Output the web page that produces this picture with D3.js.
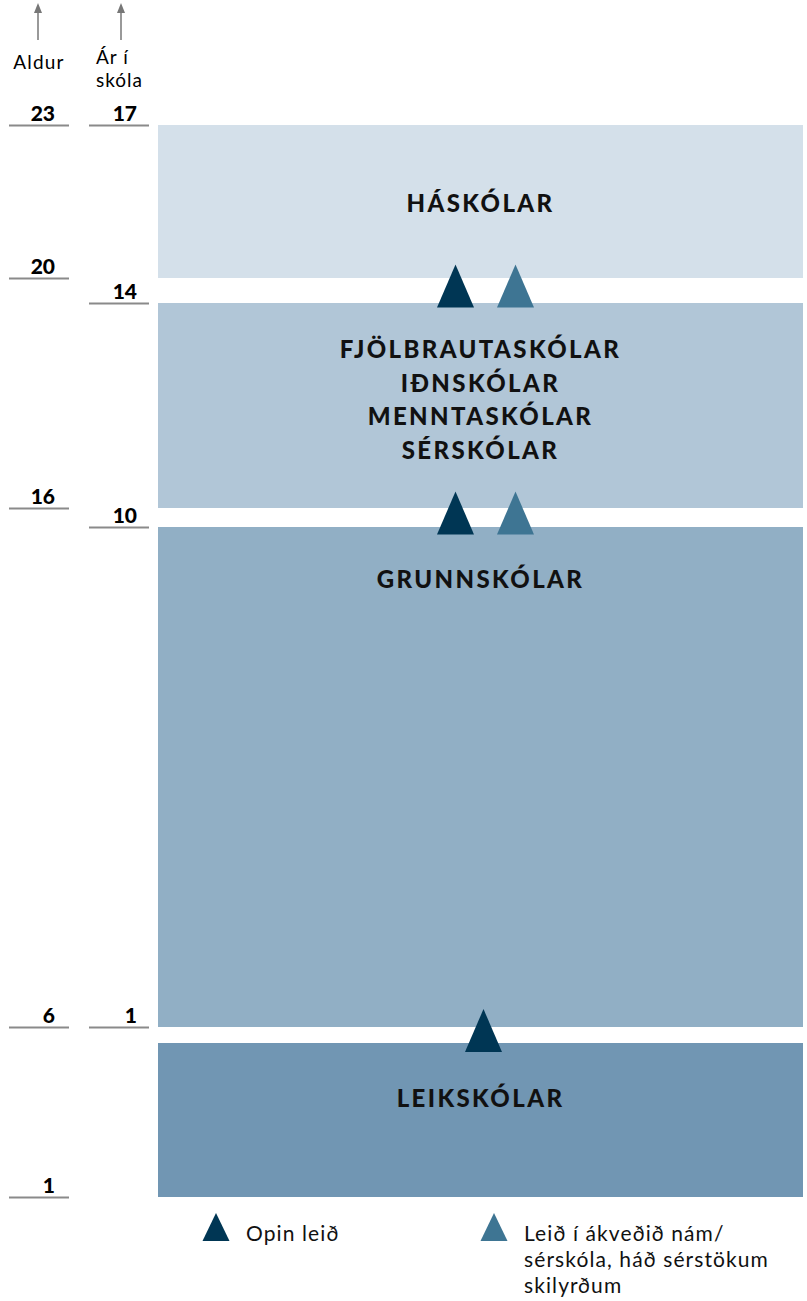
<!DOCTYPE html>
<html>
<head>
<meta charset="utf-8">
<script src="https://cdn.jsdelivr.net/npm/d3@7"></script>
<style>
  body { margin: 0; background: #fff; }
  svg { display: block; font-family: "Lato", "Open Sans", sans-serif; }
</style>
</head>
<body>
<svg id="chart"></svg>
<script>
// Axis ticks
const ageTicks = [1, 6, 16, 20, 23];
const yearTicks = [1, 10, 14, 17];

// School levels, top to bottom
const schoolNames = [
  ["HÁSKÓLAR"],
  ["FJÖLBRAUTASKÓLAR", "IÐNSKÓLAR", "MENNTASKÓLAR", "SÉRSKÓLAR"],
  ["GRUNNSKÓLAR"],
  ["LEIKSKÓLAR"]
];
const schoolTopYear = [17, 14, 10, 0];   // top edge read on the "Ár í skóla" axis
const schoolBottomAge = [20, 16, 6, 1];  // bottom edge read on the "Aldur" axis

// Transitions between levels (arrows) at these ages
const transitionAges = [20, 16, 6];
const transitionTypes = [["open", "cond"], ["open", "cond"], ["open"]];

// Legend
const legendTypes = ["open", "cond"];
const legendLabels = [["Opin leið"], ["Leið í ákveðið nám/", "sérskóla, háð sérstökum", "skilyrðum"]];

const width = 807, height = 1301;
const fills = ["#d4e0ea", "#b1c6d7", "#91afc5", "#7196b3"];
const triColor = { open: "#003654", cond: "#3e7593" };

const svg = d3.select("#chart").attr("width", width).attr("height", height);

// Schematic (piecewise) scales
const ageScale = d3.scaleLinear().domain(ageTicks).range([1197, 1027, 508, 278, 125]);
const yearScale = d3.scaleLinear().domain([0, 1, 10, 14, 17]).range([1043, 1027, 527, 303, 125]);

const boxLeft = 158, boxRight = 803;
const boxMid = (boxLeft + boxRight) / 2;

// Axes
function styleAxis(g, textX) {
  g.select(".domain").remove();
  g.selectAll(".tick line").attr("stroke", "#8a8a8a").attr("stroke-width", 2);
  g.selectAll(".tick text")
    .attr("x", textX)
    .attr("dy", "-5px")
    .attr("fill", "#000")
    .style("font-size", "21px")
    .style("font-weight", "900")
    .style("font-family", "Lato, sans-serif");
}

const ageAxisX = 69, yearAxisX = 149;
svg.append("g")
    .attr("transform", `translate(${ageAxisX},0)`)
    .call(d3.axisLeft(ageScale).tickValues(ageTicks).tickSize(60).tickFormat(d3.format("d")))
    .call(g => styleAxis(g, -14));

svg.append("g")
    .attr("transform", `translate(${yearAxisX},0)`)
    .call(d3.axisLeft(yearScale).tickValues(yearTicks).tickSize(60).tickFormat(d3.format("d")))
    .call(g => styleAxis(g, -12));

// Header arrows
[ageAxisX - 31, yearAxisX - 28].forEach(x => {
  svg.append("line").attr("x1", x).attr("x2", x).attr("y1", 12).attr("y2", 40)
      .attr("stroke", "#777").attr("stroke-width", 1.5);
  svg.append("path").attr("d", `M${x - 4},13 L${x},3 L${x + 4},13 Z`).attr("fill", "#777");
});

svg.append("text").attr("x", ageAxisX - 30).attr("y", 69)
    .attr("text-anchor", "middle").style("font-size", "19px").style("letter-spacing", "1.2px")
    .text("Aldur");
svg.append("text").attr("x", yearAxisX - 53).attr("y", 64)
    .style("font-size", "19px").style("letter-spacing", "1px").text("Ár í");
svg.append("text").attr("x", yearAxisX - 53).attr("y", 87)
    .style("font-size", "19px").style("letter-spacing", "1px").text("skóla");

// School boxes
const labelDy = [87, 55, 61, 64];
schoolNames.forEach((lines, i) => {
  const top = yearScale(schoolTopYear[i]);
  const bottom = ageScale(schoolBottomAge[i]);
  svg.append("rect")
      .attr("x", boxLeft).attr("y", top)
      .attr("width", boxRight - boxLeft).attr("height", bottom - top)
      .attr("fill", fills[i]);
  lines.forEach((line, j) => {
    svg.append("text")
        .attr("x", boxMid).attr("y", top + labelDy[i] + j * 33.5)
        .attr("text-anchor", "middle")
        .style("font-size", "24px").style("font-weight", "900").style("letter-spacing", "2.4px")
        .attr("fill", "#111")
        .text(line);
  });
});

// Triangles between levels
const pairX = d3.scalePoint().domain(["open", "cond"]).range([boxMid - 25, boxMid + 35]);
function tri(cx, base, w, h) {
  return `M${cx - w / 2},${base} L${cx},${base - h} L${cx + w / 2},${base} Z`;
}
transitionAges.forEach((age, i) => {
  const above = ageScale(age);
  const below = yearScale(schoolTopYear[i + 1]);
  const base = (above + below) / 2 + 17;
  transitionTypes[i].forEach(t => {
    const cx = transitionTypes[i].length > 1 ? pairX(t) : boxMid + 3;
    svg.append("path").attr("d", tri(cx, base, 37, 43)).attr("fill", triColor[t]);
  });
});

// Legend
const legendX = d3.scalePoint().domain(legendTypes).range([216, 494]);
legendTypes.forEach((t, i) => {
  const x = legendX(t);
  svg.append("path").attr("d", tri(x, 1241, 27, 28)).attr("fill", triColor[t]);
  legendLabels[i].forEach((line, j) => {
    svg.append("text")
        .attr("x", x + 30).attr("y", 1241 + j * 26)
        .style("font-size", "21px").style("letter-spacing", "1.1px")
        .attr("fill", "#111")
        .text(line);
  });
});
</script>
</body>
</html>
